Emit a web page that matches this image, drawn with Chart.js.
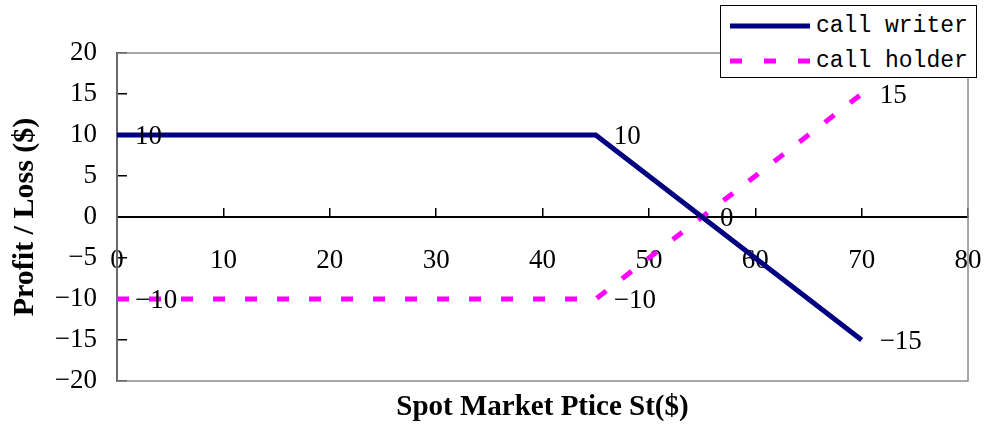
<!DOCTYPE html>
<html>
<head>
<meta charset="utf-8">
<script src="https://cdn.jsdelivr.net/npm/chart.js@4/dist/chart.umd.min.js"></script>
<style>
  body { margin: 0; background: #fff; }
  #wrap { position: relative; width: 985px; height: 425px; }
  #legend {
    position: absolute; left: 720px; top: 5px; width: 255px; height: 71px;
    border: 1.5px solid #000; background: #fff;
    font-family: "Liberation Mono", monospace; font-size: 23px; color: #000;
  }
  .row { position: absolute; left: 9px; height: 30px; display: flex; align-items: center; }
  .row svg { margin-right: 6px; }
</style>
</head>
<body>
<div id="wrap">
  <canvas id="c" width="985" height="425"></canvas>
  <div id="legend"></div>
</div>
<script>
// option payoff: writer vs holder of a call, strike 45, premium 10
var spotWriter = [0, 45, 55, 70];
var profitWriter = [10, 10, 0, -15];
var spotHolder = [0, 45, 70];
var profitHolder = [-10, -10, 15];
var xTicks = [0, 10, 20, 30, 40, 50, 60, 70, 80];
var yTicks = [-20, -15, -10, -5, 0, 5, 10, 15, 20];

var serif = "'Liberation Serif', 'Times New Roman', serif";

function toPoints(xs, ys) {
  return xs.map(function(x, i) {
    return { x: x, y: ys[i] };
  });
}

function fmt(v) {
  return v < 0 ? "\u2212" + Math.abs(v) : String(v);
}

// gray frame round the plot area
var frame = {
  id: "frame",
  beforeDatasetsDraw: function(chart) {
    var a = chart.chartArea;
    var ctx = chart.ctx;
    ctx.save();
    ctx.strokeStyle = "#8c8c8c";
    ctx.lineWidth = 1.5;
    ctx.strokeRect(a.left, a.top, a.right - a.left, a.bottom - a.top);
    ctx.restore();
  }
};

// value text to the right of each point
var pointLabels = {
  id: "pointLabels",
  afterDatasetsDraw: function(chart) {
    var ctx = chart.ctx;
    ctx.save();
    ctx.font = "27px " + serif;
    ctx.fillStyle = "#000";
    ctx.textAlign = "left";
    ctx.textBaseline = "middle";
    chart.data.datasets.forEach(function(ds, i) {
      var meta = chart.getDatasetMeta(i);
      meta.data.forEach(function(pt, j) {
        ctx.fillText(fmt(ds.data[j].y), pt.x + 18, pt.y + 2);
      });
    });
    ctx.restore();
  }
};

var datasets = [
  {
    label: "call writer",
    data: toPoints(spotWriter, profitWriter),
    borderColor: "#000080",
    borderWidth: 5,
    pointRadius: 0,
    tension: 0
  },
  {
    label: "call holder",
    data: toPoints(spotHolder, profitHolder),
    borderColor: "#ff00ff",
    borderWidth: 5,
    borderDash: [12, 20],
    pointRadius: 0,
    tension: 0
  }
];

var chart = new Chart(document.getElementById("c").getContext("2d"), {
  type: "line",
  data: { datasets: datasets },
  plugins: [frame, pointLabels],
  options: {
    responsive: false,
    animation: false,
    layout: { padding: { top: 53, right: 17, bottom: 44, left: 0 } },
    plugins: { legend: { display: false }, tooltip: { enabled: false } },
    scales: {
      x: {
        type: "linear",
        position: { y: 0 },
        min: 0,
        max: 80,
        afterBuildTicks: function(scale) {
          scale.ticks = xTicks.map(function(v) { return { value: v }; });
        },
        afterFit: function(scale) {
          // axis sits inside the plot; keep it from eating the margins
          scale.paddingLeft = 0;
          scale.paddingRight = 0;
          scale.paddingTop = 0;
          scale.paddingBottom = 0;
          scale.height = 208;
        },
        border: { color: "#000", width: 2 },
        grid: { drawOnChartArea: false, color: "#000", lineWidth: 1.5, tickLength: -10 },
        ticks: {
          padding: 38,
          maxRotation: 0,
          autoSkip: false,
          color: "#000",
          font: { family: serif, size: 27 },
          callback: function(v) { return fmt(v); }
        },
        title: {
          display: true,
          text: "Spot Market Ptice St($)",
          color: "#000",
          font: { family: serif, size: 29, weight: "bold" },
          padding: 0
        }
      },
      y: {
        type: "linear",
        position: "left",
        min: -20,
        max: 20,
        afterBuildTicks: function(scale) {
          scale.ticks = yTicks.map(function(v) { return { value: v }; });
        },
        afterFit: function(scale) {
          scale.width = 117;
          scale.paddingTop = 0;
          scale.paddingBottom = 0;
        },
        border: { color: "#000", width: 2 },
        grid: { drawOnChartArea: false, color: "#000", lineWidth: 1.5, tickLength: -10 },
        ticks: {
          padding: 30,
          color: "#000",
          font: { family: serif, size: 27 },
          callback: function(v) { return fmt(v); }
        },
        title: {
          display: true,
          text: "Profit / Loss ($)",
          color: "#000",
          font: { family: serif, size: 30, weight: "bold" },
          padding: { top: 7, bottom: 0 }
        }
      }
    }
  }
});

// legend box built from the datasets
var legend = document.getElementById("legend");
datasets.forEach(function(ds, i) {
  var row = document.createElement("div");
  row.className = "row";
  row.style.top = (5 + i * 35) + "px";
  var dash = ds.borderDash ? ' stroke-dasharray="12 22"' : "";
  row.innerHTML = '<svg width="80" height="10"><line x1="0" y1="5" x2="80" y2="5" stroke="' +
    ds.borderColor + '" stroke-width="' + ds.borderWidth + '"' + dash + '/></svg>' +
    '<span>' + ds.label + '</span>';
  legend.appendChild(row);
});
</script>
</body>
</html>
